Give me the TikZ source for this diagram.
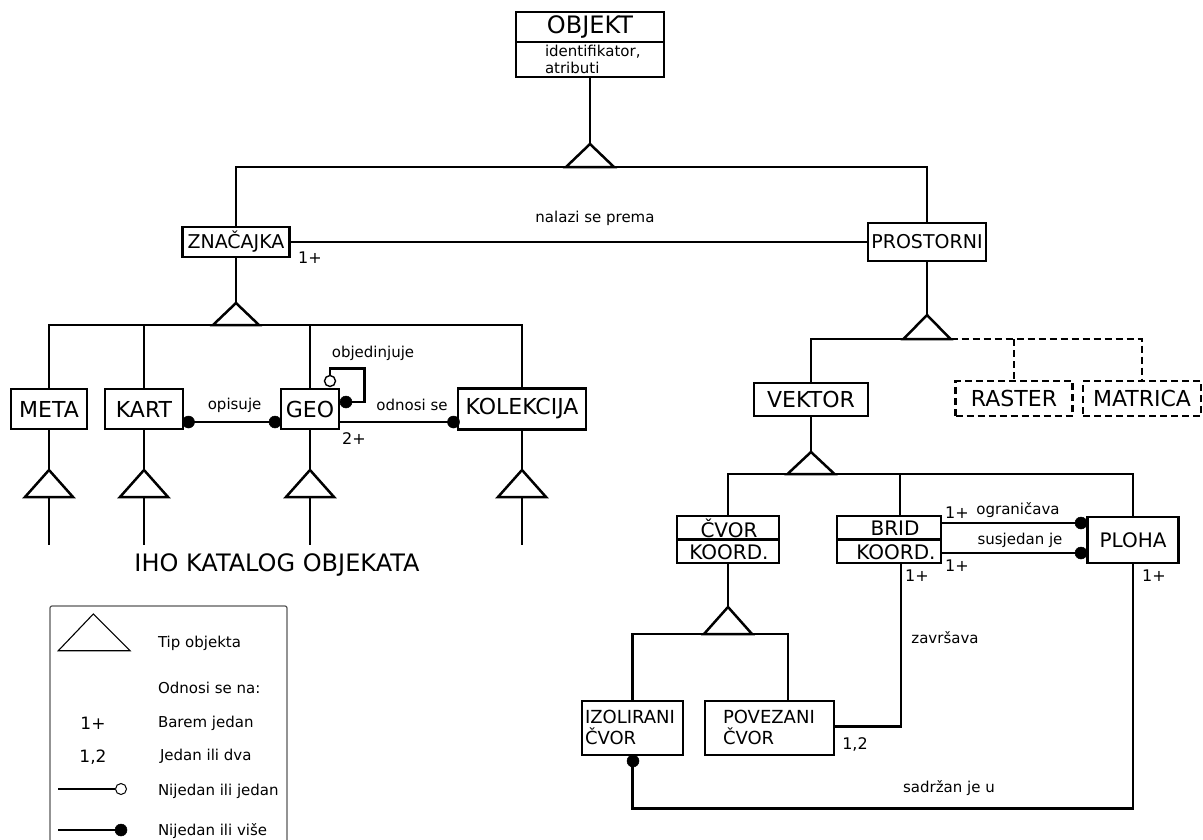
\documentclass[tikz,border=0pt]{standalone}
\usepackage{fontspec}
\setmainfont{DejaVu Sans}
\usetikzlibrary{calc}
\newcommand\fsz[2]{\fontsize{#1}{#2}\selectfont}
\begin{document}
\begin{tikzpicture}[x=1pt,y=-1pt,
  ln/.style={line width=2.5pt},
  dsh/.style={line width=2.5pt,dash pattern=on 7pt off 4pt},
  box/.style={draw,line width=2.5pt,inner sep=0pt,outer sep=0pt,align=center},
  dbox/.style={box,dash pattern=on 7pt off 4pt},
  txt/.style={inner sep=0pt,outer sep=0pt},
  lbl/.style={txt,font=\fsz{15}{18}},
  mult/.style={txt,font=\fsz{16}{19}},
  dot/.style={circle,fill=black,draw=black,line width=0.5pt,inner sep=0pt,minimum size=12pt},
  odot/.style={circle,fill=white,draw=black,line width=1.4pt,inner sep=0pt,minimum size=11pt},
  leg/.style={line width=1.1pt},
]
\useasboundingbox (0,0) rectangle (1203,839);

% ---------- OBJEKT ----------
\node[box,minimum width=148,minimum height=65] (obj) at (590,44.5) {};
\draw[ln] (obj.west |- 0,42) -- (obj.east |- 0,42);
\node[txt,font=\fsz{24}{24}] (objt) at (590,27) {OBJEKT};
\node[txt,font=\fsz{15}{17},align=left,anchor=north west] (obja) at (545,45) {identifikator,\\atributi};

\coordinate (a0) at (590,144);
\draw[ln] (obj.south) -- (a0);
\draw[ln] (a0) -- +(-24,23) -- +(24,23) -- cycle;

% ---------- ZNACAJKA / PROSTORNI ----------
\node[box,minimum width=107,minimum height=30,font=\fsz{19}{19}] (zn) at (236,242) {ZNAČAJKA};
\node[box,minimum width=118,minimum height=38,font=\fsz{19}{19}] (pr) at (927,242) {PROSTORNI};
\draw[ln] (zn.north) |- (pr.north |- 0,167) -- (pr.north);
\draw[ln] (zn.east) -- (pr.west);
\node[lbl] (lnal) at (595,218) {nalazi se prema};
\node[mult] (m1) at (310,258) {1+};

% ---------- subtypes of ZNACAJKA ----------
\coordinate (a1) at (236,303);
\draw[ln] (zn.south) -- (a1);
\draw[ln] (a1) -- +(-23,22) -- +(23,22) -- cycle;

\node[box,minimum width=76,minimum height=40,font=\fsz{22}{22}] (meta) at (49,409) {META};
\node[box,minimum width=78,minimum height=40,font=\fsz{22}{22}] (kart) at (144,409) {KART};
\node[box,minimum width=58,minimum height=40,font=\fsz{22}{22}] (geo) at (310,409) {GEO};
\node[box,minimum width=128,minimum height=41,font=\fsz{22}{22}] (kol) at (522,409) {KOLEKCIJA};

\draw[ln] (meta.north) |- (kol.north |- 0,325) -- (kol.north);
\draw[ln] (kart.north) -- (kart.north |- 0,325);
\draw[ln] (geo.north) -- (geo.north |- 0,325);

\foreach \n in {meta,kart,geo,kol}{
  \coordinate (ap\n) at (\n.south |- 0,470);
  \draw[ln] (\n.south) -- (ap\n);
  \draw[ln] (ap\n) -- +(-24,27) -- +(24,27) -- cycle;
  \draw[ln] ($(ap\n)+(0,27)$) -- (\n.south |- 0,545);
}

% relations between GEO and its neighbours
\coordinate (dk) at (188.5,422);
\coordinate (dg) at (275,422);
\coordinate (dc) at (453.5,422);
\coordinate (oc) at (330,381);
\coordinate (fc) at (346,402);
\draw[ln] (kart.east |- 0,422) -- (geo.west |- 0,422);
\draw[ln] (geo.east |- 0,422) -- (kol.west |- 0,422);
\draw[ln] (oc) |- (364.5,368.5) |- (fc);
\node[dot] (ndk) at (dk) {};
\node[dot] (ndg) at (dg) {};
\node[dot] (ndc) at (dc) {};
\node[odot] (noc) at (oc) {};
\node[dot] (nfc) at (fc) {};
\node[lbl] (lobj) at (373,353) {objedinjuje};
\node[lbl] (lopi) at (234.6,405) {opisuje};
\node[lbl] (lodn) at (412,405) {odnosi se};
\node[mult] (m2) at (354,438.5) {2+};

% ---------- subtypes of PROSTORNI ----------
\coordinate (a2) at (927,315);
\draw[ln] (pr.south) -- (a2);
\node[box,minimum width=114,minimum height=33,font=\fsz{22}{22}] (vek) at (811,399.5) {VEKTOR};
\node[dbox,minimum width=117,minimum height=35,font=\fsz{22}{22}] (ras) at (1014,398.5) {RASTER};
\node[dbox,minimum width=118,minimum height=35,font=\fsz{22}{22}] (mat) at (1142,398.5) {MATRICA};
\draw[ln] (vek.north) |- (903.5,339);
\draw[dsh] (950.5,339) -| (mat.north);
\draw[dsh] (ras.north |- 0,339) -- (ras.north);
\draw[ln] (a2) -- +(-23.5,24) -- +(23.5,24) -- cycle;

% ---------- subtypes of VEKTOR ----------
\coordinate (a3) at (811,452);
\draw[ln] (vek.south) -- (a3);
\draw[ln] (a3) -- +(-23.5,22) -- +(23.5,22) -- cycle;

\node[box,minimum width=102,minimum height=47] (cv) at (728,539.5) {};
\draw[ln] (cv.west) -- (cv.east);
\node[txt,font=\fsz{20}{20}] (cvt) at (729,528) {ČVOR};
\node[txt,font=\fsz{20}{20}] (cvk) at (729,552) {KOORD.};

\node[box,minimum width=104,minimum height=47] (br) at (889,539.5) {};
\draw[ln] (br.west) -- (br.east);
\node[txt,font=\fsz{20}{20}] (brt) at (895,528) {BRID};
\node[txt,font=\fsz{20}{20}] (brk) at (896,552) {KOORD.};

\node[box,minimum width=91,minimum height=46,font=\fsz{20}{20}] (pl) at (1133,540) {PLOHA};

\draw[ln] (cv.north) |- (pl.north |- 0,474) -- (pl.north);
\draw[ln] (br.north -| 900,0) -- (900,474);

\coordinate (dp1) at (1081,523);
\coordinate (dp2) at (1081,553);
\draw[ln] (br.east |- 0,523) -- (pl.west |- 0,523);
\draw[ln] (br.east |- 0,553) -- (pl.west |- 0,553);
\node[dot] (ndp1) at (dp1) {};
\node[dot] (ndp2) at (dp2) {};
\node[mult] (m3) at (957,513) {1+};
\node[lbl] (logr) at (1018,510) {ograničava};
\node[lbl] (lsus) at (1020,540) {susjedan je};
\node[mult] (m4) at (957,566) {1+};
\node[mult] (m5) at (917,576) {1+};
\node[mult] (m6) at (1154,576) {1+};

% ---------- subtypes of CVOR ----------
\coordinate (a4) at (728,607);
\draw[ln] (cv.south) -- (a4);
\draw[ln] (a4) -- +(-24,27) -- +(24,27) -- cycle;

\node[box,minimum width=101,minimum height=54] (iz) at (632.5,728) {};
\node[txt,font=\fsz{18}{21},align=left,anchor=west] (izt) at (585,727.5) {IZOLIRANI\\ČVOR};
\node[box,minimum width=129,minimum height=54] (pov) at (769.5,728) {};
\node[txt,font=\fsz{18}{21},align=left,anchor=west] (povt) at (723,727.5) {POVEZANI\\ČVOR};

\draw[ln] (iz.north) |- (788,634) -- (pov.north -| 788,0);
\draw[ln] (pov.east |- 0,726.5) -| (br.south -| 901,0);
\node[mult] (m7) at (855,744) {1,2};
\node[lbl] (lzav) at (945,638) {završava};

\coordinate (di) at (633,761);
\draw[ln] (iz.south) |- (pl.south |- 0,808.5) -- (pl.south);
\node[dot] (ndi) at (di) {};
\node[lbl] (lsad) at (949,788) {sadržan je u};

% ---------- title ----------
\node[txt,font=\fsz{24}{24}] (title) at (277,565) {IHO KATALOG OBJEKATA};

% ---------- legend ----------
\draw[line width=1.2pt,black!65,rounded corners=2pt] (50,850) -- (50,606) -- (287,606) -- (287,850);
\draw[leg] (93.3,614) -- (58.3,650.7) -- (130,650.7) -- cycle;
\node[lbl,anchor=west] (g1) at (158,643) {Tip objekta};
\node[lbl,anchor=west] (g2) at (158,688) {Odnosi se na:};
\node[txt,font=\fsz{17}{17}] (g3n) at (93,723) {1+};
\node[lbl,anchor=west] (g3) at (158,723) {Barem jedan};
\node[txt,font=\fsz{17}{17}] (g4n) at (93,757) {1,2};
\node[lbl,anchor=west] (g4) at (160,756) {Jedan ili dva};
\coordinate (g5s) at (58,789);
\node[odot,line width=1pt] (g5c) at (121,789) {};
\draw[leg] (g5s) -- (g5c.west);
\node[lbl,anchor=west] (g5) at (158,791) {Nijedan ili jedan};
\coordinate (g6s) at (58,830);
\node[dot] (g6c) at (121,830) {};
\draw[leg] (g6s) -- (g6c.west);
\node[lbl,anchor=west] (g6) at (158,831) {Nijedan ili više};
\end{tikzpicture}
\end{document}
